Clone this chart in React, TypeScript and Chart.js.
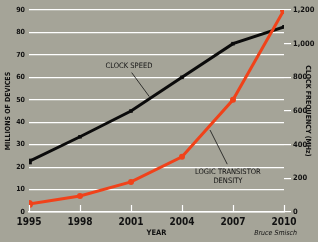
import React, { useEffect, useRef } from "react";
import { Chart, registerables } from "chart.js";

Chart.register(...registerables);

const years = [1995, 1998, 2001, 2004, 2007, 2010];
const clockSpeedMHz = [300, 447, 600, 800, 1000, 1100];
const transistorDensity = [3.6, 7.1, 13.4, 24.6, 50, 90];
const leftTicks = [0, 10, 20, 30, 40, 50, 60, 70, 80, 90];
const rightTicks = [0, 200, 400, 600, 800, 1000, 1200];

const BG = "#a5a498";
const RED = "#f0421a";
const BLACK = "#0b0b0b";
const FONT = "'Liberation Sans Narrow', 'Arial Narrow', 'DejaVu Sans Condensed', sans-serif";

const decorPlugin = {
  id: "decor",
  beforeDraw(chart: any) {
    const { ctx, width, height } = chart;
    ctx.save();
    ctx.fillStyle = BG;
    ctx.fillRect(0, 0, width, height);
    ctx.restore();
  },
  afterDatasetsDraw(chart: any) {
    const { ctx, scales } = chart;
    const x = scales.x;
    const y = scales.y;
    const px = (v: number) => x.getPixelForValue(v);
    const py = (v: number) => y.getPixelForValue(v);
    ctx.save();
    // inward x ticks
    ctx.strokeStyle = "#ffffff";
    ctx.lineWidth = 1.2;
    for (const yr of years) {
      const xx = Math.round(px(yr)) + 0.5;
      ctx.beginPath();
      ctx.moveTo(xx, y.bottom);
      ctx.lineTo(xx, y.bottom - 7);
      ctx.stroke();
    }
    // leader lines
    ctx.strokeStyle = "#111";
    ctx.lineWidth = 0.8;
    ctx.beginPath();
    ctx.moveTo(px(2001.04), py(62.1));
    ctx.lineTo(px(2002.08), py(51.4));
    ctx.moveTo(px(2005.65), py(36.5));
    ctx.lineTo(px(2006.66), py(21.3));
    ctx.stroke();
    // annotation text
    ctx.fillStyle = "#111";
    ctx.textAlign = "center";
    ctx.textBaseline = "middle";
    ctx.font = `7.5px ${FONT}`;
    ctx.fillText("CLOCK SPEED", px(2000.88), py(65));
    ctx.fillText("LOGIC TRANSISTOR", px(2006.7), py(18));
    ctx.fillText("DENSITY", px(2006.7), py(13.8));
    // credit
    ctx.textAlign = "right";
    ctx.font = `italic 7px ${FONT}`;
    ctx.fillText("Bruce Smisch", 297, 233);
    ctx.restore();
  },
};

export default function App() {
  const ref = useRef<HTMLCanvasElement | null>(null);
  useEffect(() => {
    document.body.style.margin = "0";
    const canvas = ref.current!;
    const chart = new Chart(canvas, {
      type: "line",
      data: {
        datasets: [
          {
            label: "Clock speed",
            data: years.map((yr, i) => ({ x: yr, y: clockSpeedMHz[i] })),
            yAxisID: "y2",
            borderColor: BLACK,
            backgroundColor: BLACK,
            borderWidth: 3,
            pointStyle: "rect",
            pointRadius: (c: any) => (c.dataIndex === 0 ? 4 : 2.5),
            pointBorderWidth: 0,
            order: 2,
          },
          {
            label: "Logic transistor density",
            data: years.map((yr, i) => ({ x: yr, y: transistorDensity[i] })),
            yAxisID: "y",
            borderColor: RED,
            backgroundColor: RED,
            borderWidth: 3,
            pointStyle: "circle",
            pointRadius: (c: any) => (c.dataIndex === 0 || c.dataIndex === years.length - 1 ? 4 : 3),
            pointBorderWidth: 0,
            order: 1,
          },
        ],
      },
      options: {
        animation: false,
        responsive: false,
        layout: { padding: { top: 10, left: 0, right: 0, bottom: 0 } },
        plugins: { legend: { display: false }, tooltip: { enabled: false } },
        scales: {
          x: {
            type: "linear",
            min: 1995,
            max: 2010,
            afterBuildTicks: (s: any) => {
              s.ticks = years.map((v) => ({ value: v }));
            },
            afterFit: (s: any) => {
              s.height = 30;
            },
            ticks: {
              callback: (v: any) => String(v),
              color: "#111",
              font: { family: FONT, size: 10, weight: "bold" },
              padding: 4,
              maxRotation: 0,
              autoSkip: false,
            },
            grid: { display: false, drawTicks: false },
            border: { display: true, color: "#ffffff", width: 1.5 },
            title: {
              display: true,
              text: "YEAR",
              color: "#111",
              font: { family: FONT, size: 7.5, weight: "bold" },
              padding: { top: 0, bottom: 4 },
            },
          },
          y: {
            position: "left",
            min: 0,
            max: 90,
            afterBuildTicks: (s: any) => {
              s.ticks = leftTicks.map((v) => ({ value: v }));
            },
            afterFit: (s: any) => {
              s.width = 29;
            },
            ticks: {
              color: "#111",
              font: { family: FONT, size: 7, weight: "bold" },
              padding: 4,
            },
            grid: { color: "#ffffff", lineWidth: 1.2, drawTicks: false },
            border: { display: false },
            title: {
              display: true,
              text: "MILLIONS OF DEVICES",
              color: "#111",
              font: { family: FONT, size: 7, weight: "bold" },
              padding: { top: 4, bottom: 0 },
            },
          },
          y2: {
            position: "right",
            min: 0,
            max: 1200,
            afterBuildTicks: (s: any) => {
              s.ticks = rightTicks.map((v) => ({ value: v }));
            },
            afterFit: (s: any) => {
              s.width = 34;
            },
            ticks: {
              color: "#111",
              font: { family: FONT, size: 7.5, weight: "bold" },
              padding: 2,
              callback: (v: any) => Number(v).toLocaleString("en-US"),
            },
            grid: { drawOnChartArea: false, color: "#ffffff", tickLength: 7, lineWidth: 1.2 },
            border: { display: false },
            title: {
              display: true,
              text: "CLOCK FREQUENCY (MHz)",
              color: "#111",
              font: { family: FONT, size: 7, weight: "bold" },
              padding: { top: 6, bottom: 0 },
            },
          },
        },
      },
      plugins: [decorPlugin],
    } as any);
    return () => chart.destroy();
  }, []);
  return <canvas ref={ref} width={318} height={242} style={{ display: "block" }} />;
}
